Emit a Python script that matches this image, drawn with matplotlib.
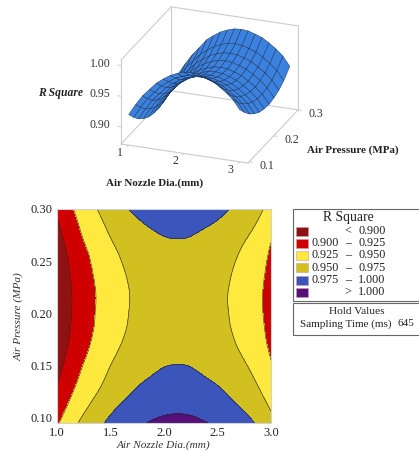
import numpy as np
import matplotlib
matplotlib.use("Agg")
import matplotlib.pyplot as plt
from matplotlib.patches import Rectangle
from matplotlib.tri import Triangulation, UniformTriRefiner
from mpl_toolkits.mplot3d import proj3d

plt.rcParams['font.family'] = ['Liberation Serif', 'DejaVu Serif']

nozzle = np.array([1.0, 1.125, 1.25, 1.375, 1.5, 1.625, 1.75, 1.875, 2.0,
                   2.125, 2.25, 2.375, 2.5, 2.625, 2.75, 2.875, 3.0])
pressure = np.array([0.095, 0.115, 0.135, 0.155, 0.175, 0.195, 0.215, 0.235, 0.255, 0.275, 0.30])
r_square = np.array([
    [.922, .940, .956, .968, .980, .9885, .996, 1.001, 1.0045, 1.0055, 1.0045, 1.001, .997, .990, .982, .972, .957],
    [.909, .927, .943, .955, .967, .9755, .983, .988, .9915, .9925, .9915, .988, .984, .977, .969, .959, .944],
    [.898, .916, .932, .944, .956, .9645, .972, .977, .9805, .9815, .9805, .977, .973, .966, .958, .948, .933],
    [.890, .908, .924, .936, .948, .9565, .964, .969, .9725, .9735, .9725, .969, .965, .958, .950, .940, .925],
    [.884, .902, .918, .930, .942, .9505, .958, .963, .9665, .9675, .9665, .963, .959, .952, .944, .934, .919],
    [.881, .899, .915, .927, .939, .9475, .955, .960, .9635, .9645, .9635, .960, .956, .949, .941, .931, .916],
    [.880, .898, .914, .926, .938, .9465, .954, .959, .9625, .9635, .9625, .959, .955, .948, .940, .930, .915],
    [.882, .900, .916, .928, .940, .9485, .956, .961, .9645, .9655, .9645, .961, .957, .950, .942, .932, .917],
    [.886, .904, .920, .932, .944, .9525, .960, .965, .9685, .9695, .9685, .965, .961, .954, .946, .936, .921],
    [.893, .911, .927, .939, .951, .9595, .967, .972, .9755, .9765, .9755, .972, .968, .961, .953, .943, .928],
    [.903, .921, .937, .950, .964, .9725, .980, .985, .9885, .9895, .9885, .985, .981, .974, .966, .956, .941],
])
levels = [0.80, 0.900, 0.925, 0.950, 0.975, 1.000, 1.10]
colors = ['#8f1212', '#cf0000', '#ffe93f', '#d2c021', '#3b55bb', '#55107a']
legend_labels = [('', '<', '0.900'), ('0.900', '\u2013', '0.925'), ('0.925', '\u2013', '0.950'),
                 ('0.950', '\u2013', '0.975'), ('0.975', '\u2013', '1.000'), ('', '>', '1.000')]
x_ticks = [1.0, 1.5, 2.0, 2.5, 3.0]
y_ticks = [0.10, 0.15, 0.20, 0.25, 0.30]
surf_x_ticks = [1, 2, 3]
surf_y_ticks = [0.1, 0.2, 0.3]
surf_z_ticks = [0.90, 0.95, 1.00]
W, H = 419, 451
TXT = '#222222'
GREY = '#cccccc'
XMIN, XMAX = 0.86, 3.15
YMIN, YMAX = 0.095, 0.30
ZMIN, ZMAX = 0.872, 1.009

fig = plt.figure(figsize=(W / 100, H / 100), dpi=100)


def box(l, t, r, b):
    return [l / W, 1 - b / H, (r - l) / W, (b - t) / H]


# --- surface panel (frame drawn by hand so that it matches the reference)
ax3 = fig.add_axes(box(55.5, -61, 355.5, 239), projection='3d', proj_type='ortho')
ax3.set_box_aspect((1.0, 1.05, 0.675), zoom=0.7023)
ax3.view_init(elev=23.5, azim=-69.4)
ax3.set_xlim(XMIN, XMAX)
ax3.set_ylim(YMIN, YMAX)
ax3.set_zlim(ZMIN, ZMAX)
ax3.set_axis_off()
X, Y = np.meshgrid(nozzle, pressure)
frame = [
    ((XMIN, XMAX), (YMIN, YMIN), (ZMIN, ZMIN)),
    ((XMAX, XMAX), (YMIN, YMAX), (ZMIN, ZMIN)),
    ((XMIN, XMAX), (YMAX, YMAX), (ZMIN, ZMIN)),
    ((XMIN, XMIN), (YMIN, YMAX), (ZMIN, ZMIN)),
    ((XMIN, XMIN), (YMIN, YMIN), (ZMIN, ZMAX)),
    ((XMIN, XMIN), (YMAX, YMAX), (ZMIN, ZMAX)),
    ((XMAX, XMAX), (YMAX, YMAX), (ZMIN, ZMAX)),
    ((XMIN, XMIN), (YMIN, YMAX), (ZMAX, ZMAX)),
    ((XMIN, XMAX), (YMAX, YMAX), (ZMAX, ZMAX)),
]
for fx, fy, fz in frame:
    ax3.plot(fx, fy, fz, color=GREY, lw=0.8, zorder=1)
for v in surf_x_ticks:
    ax3.plot((v, v), (YMIN, YMIN - 0.006), (ZMIN, ZMIN), color=GREY, lw=0.7)
for v in surf_y_ticks:
    ax3.plot((XMAX, XMAX + 0.06), (v, v), (ZMIN, ZMIN), color=GREY, lw=0.7)
for v in surf_z_ticks:
    ax3.plot((XMIN, XMIN - 0.06), (YMIN, YMIN), (v, v), color=GREY, lw=0.7)
ax3.plot_surface(X, Y, r_square, color='#3b82e0', edgecolor='#1c3358', linewidth=0.35,
                 shade=False, rstride=1, cstride=1, zorder=3)
fig.canvas.draw()
proj = ax3.get_proj()


def label3d(x, y, z, s, dx=0.0, dy=0.0):
    px, py, _ = proj3d.proj_transform(x, y, z, proj)
    qx, qy = ax3.transData.transform((px, py))
    fig.text((qx + dx) / W, (qy - dy) / H, s, fontsize=8.5, color='#333333', ha='center', va='center')


for v in surf_x_ticks:
    label3d(v, YMIN, ZMIN, str(v), dx=-9, dy=8)
for v in surf_y_ticks:
    label3d(XMAX, v, ZMIN, f'{v:.1f}', dx=18, dy=4)
for v in surf_z_ticks:
    label3d(XMIN, YMIN, v, f'{v:.2f}', dx=-21, dy=-2)

fig.text(106 / W, 1 - 183 / H, 'Air Nozzle Dia.(mm)', fontsize=7.9, fontweight='bold', color=TXT, va='center')
fig.text(307 / W, 1 - 150 / H, 'Air Pressure (MPa)', fontsize=7.9, fontweight='bold', color=TXT, va='center')
fig.text(38 / W, 1 - 93 / H, 'R Square', fontsize=8.4, fontweight='bold', style='italic', color=TXT, va='center')

# --- contour panel
ax = fig.add_axes(box(57, 209, 271, 423))
tri = Triangulation(X.ravel(), Y.ravel() * 10)
tf, zf = UniformTriRefiner(tri).refine_field(r_square.ravel(), subdiv=2)
ax.tricontourf(tf, zf, levels=levels, colors=colors)
ax.tricontour(tf, zf, levels=levels[1:-1], colors='#222222', linewidths=0.5, alpha=0.8)
ax.set_xlim(1, 3)
ax.set_ylim(0.947, 3.0)
ax.set_xticks(x_ticks)
ax.set_xticklabels([f'{v:.1f}' for v in x_ticks], fontsize=9, color=TXT)
ax.set_yticks([v * 10 for v in y_ticks])
ax.set_yticklabels([f'{v:.2f}' for v in y_ticks], fontsize=9, color=TXT)
ax.tick_params(length=0, pad=3)
for s in ax.spines.values():
    s.set_color('#d0d0d8')
    s.set_linewidth(0.8)
fig.text(163 / W, 1 - 445 / H, 'Air Nozzle Dia.(mm)', fontsize=8.1, style='italic', color='#333333',
         ha='center', va='center')
fig.text(19 / W, 1 - 317 / H, 'Air Pressure (MPa)', fontsize=8.1, style='italic', color='#333333',
         rotation=90, ha='center', va='center')

# --- legend
ov = fig.add_axes([0, 0, 1, 1])
ov.set_xlim(0, W)
ov.set_ylim(H, 0)
ov.axis('off')
ov.patch.set_alpha(0)
ov.add_patch(Rectangle((293, 209), 130, 92, fc='white', ec='#666666', lw=0.8))
ov.add_patch(Rectangle((293, 303), 130, 32, fc='white', ec='#666666', lw=0.8))
ov.text(348, 217, 'R Square', fontsize=9.8, ha='center', va='center', color=TXT)
for i, (c, (lo, dash, hi)) in enumerate(zip(colors, legend_labels)):
    yy = 231 + i * 12.25
    ov.add_patch(Rectangle((296, yy - 4.5), 12, 9, fc=c, ec='#c9a0a0', lw=0.4))
    ov.text(339, yy, lo, fontsize=8.7, ha='right', va='center', color=TXT)
    ov.text(348, yy, dash, fontsize=8.7, ha='center', va='center', color=TXT)
    ov.text(358, yy, hi, fontsize=8.7, ha='left', va='center', color=TXT)
ov.text(357, 311, 'Hold Values', fontsize=8.2, ha='center', va='center', color=TXT)
ov.text(300, 324, 'Sampling Time (ms)', fontsize=8, ha='left', va='center', color=TXT)
ov.text(397, 324, '645', fontsize=8, ha='left', va='center', color=TXT)

fig.savefig('out.png', dpi=100)
